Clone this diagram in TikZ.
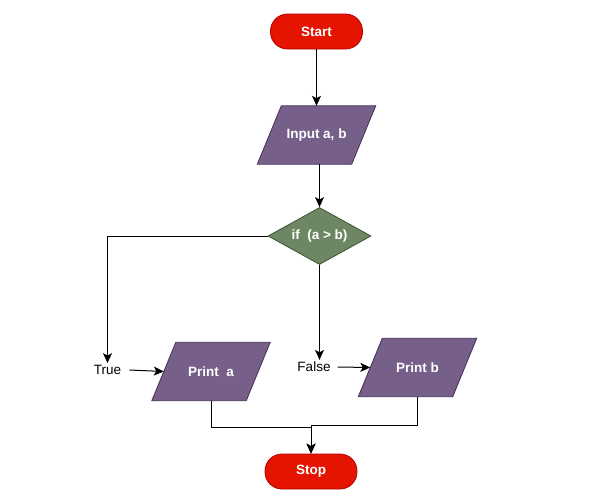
\documentclass[tikz,border=0pt]{standalone}
\usepackage{fontspec}
\setmainfont{Liberation Sans}
\usetikzlibrary{shapes.geometric,arrows.meta,calc,backgrounds}

\definecolor{termfill}{HTML}{E51400}
\definecolor{termline}{HTML}{B20000}
\definecolor{iofill}{HTML}{76608A}
\definecolor{ioline}{HTML}{432D57}
\definecolor{decfill}{HTML}{6D8764}
\definecolor{decline}{HTML}{3A5431}

\tikzset{
  boldtext/.style={text=white, font=\fontsize{13.5}{16}\selectfont\bfseries},
  terminal/.style={rectangle, rounded corners=17pt, minimum width=92pt, minimum height=35pt,
    fill=termfill, draw=termline, line width=0.8pt, boldtext},
  % the node is the parallelogram's mid-height box; the slanted outline is drawn behind it
  iobox/.style={rectangle, minimum width=94pt, minimum height=58pt, inner sep=0pt, boldtext},
  ioshape/.style={fill=iofill, draw=ioline, line width=0.8pt},
  decision/.style={diamond, aspect=1.8, minimum width=103pt, minimum height=57pt, inner sep=0pt,
    fill=decfill, draw=decline, line width=0.8pt, boldtext},
  label/.style={inner sep=2pt, font=\fontsize{13.5}{16}\selectfont},
  flow/.style={draw=black, line width=1pt, -{Stealth[length=10pt,width=9pt,inset=2.5pt]}}
}

\begin{document}
\begin{tikzpicture}[x=1pt, y=-1pt]
  \useasboundingbox (0,0) rectangle (615,499);

  % blocks
  \node[terminal] (start) at (316.5,31.5) {Start};
  \node[iobox]    (input) at (316.5,135)  {Input a, b};
  \node[decision] (test)  at (319.5,236)  {if\ \ (a > b)};
  \node[label]    (true)  at (107.5,370)  {True};
  \node[label]    (false) at (314,367)    {False};
  \node[iobox]    (pa)    at (211,371.5)  {Print\ \ a};
  \node[iobox]    (pb)    at (417.5,367.5){Print b};
  \node[terminal] (stop)  at (311,471.5)  {Stop};

  % parallelogram outlines of the input/output blocks
  \begin{scope}[on background layer]
    \fill[white] (0,0) rectangle (615,499);
    \foreach \n in {input,pa,pb}
      \draw[ioshape] ($(\n.north west)+(12,0)$) -- ($(\n.north east)+(12,0)$)
        -- ($(\n.south east)+(-12,0)$) -- ($(\n.south west)+(-12,0)$) -- cycle;
  \end{scope}

  % connectors
  \draw[flow] (start.south) -- (input.north);
  \draw[flow] (input.south -| test.north) -- (test.north);
  \draw[flow] (test.west) -| (true.north);
  \draw[flow] (test.south) -- (test.south |- false.north);
  \draw[flow] (true.east) ++(6,0) -- (pa.west);
  \draw[flow] (false.east) ++(5,0) -- (pb.west);
  \draw[flow] (pa.south) |- ($(pa.south)!0.5!(stop.north)$) -| (stop.north);
  \draw[flow] (pb.south) |- ($(pb.south)!0.5!(stop.north)$) -| (stop.north);
\end{tikzpicture}
\end{document}
